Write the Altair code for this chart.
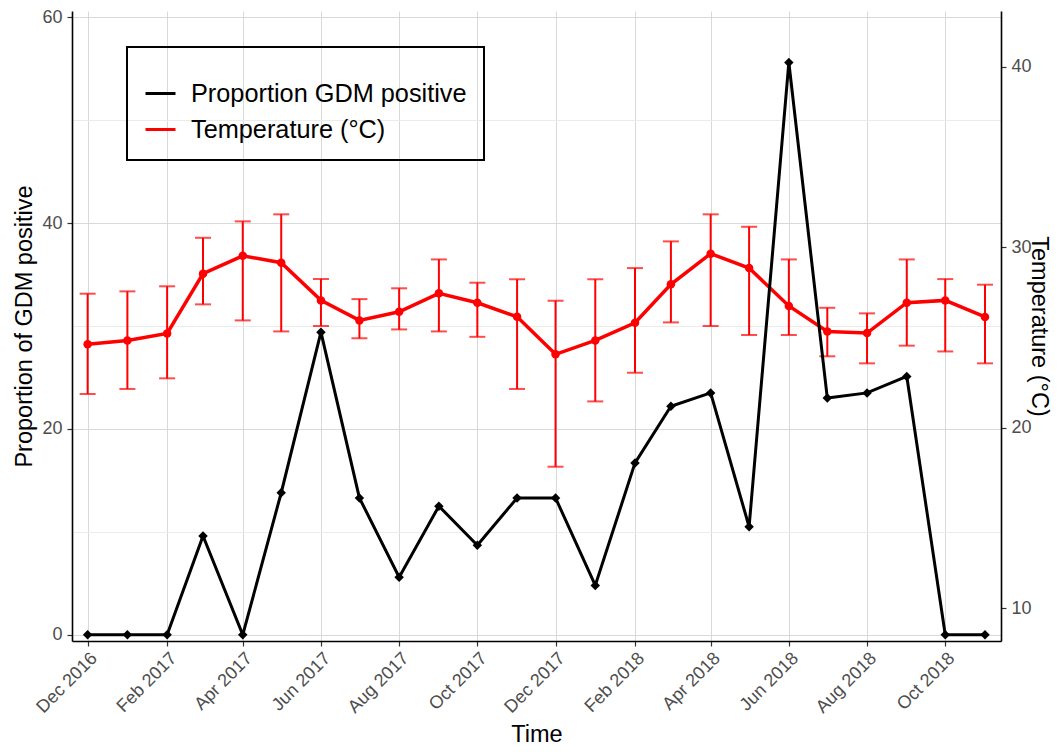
import altair as alt
import pandas as pd

# ---- data ----
months = [
    "2016-12-01", "2017-01-01", "2017-02-01", "2017-03-01", "2017-04-01", "2017-05-01",
    "2017-06-01", "2017-07-01", "2017-08-01", "2017-09-01", "2017-10-01", "2017-11-01",
    "2017-12-01", "2018-01-01", "2018-02-01", "2018-03-01", "2018-04-01", "2018-05-01",
    "2018-06-01", "2018-07-01", "2018-08-01", "2018-09-01", "2018-10-01", "2018-11-01",
]
gdm_prop = [0, 0, 0, 9.6, 0, 13.8, 29.4, 13.3, 5.6, 12.5, 8.7, 13.3,
            13.3, 4.8, 16.7, 22.2, 23.5, 10.5, 55.6, 23.0, 23.5, 25.1, 0, 0]
temp_mean = [24.63, 24.84, 25.23, 28.54, 29.53, 29.15, 27.06, 25.95, 26.43, 27.45, 26.93, 26.15,
             24.07, 24.84, 25.82, 27.95, 29.65, 28.85, 26.75, 25.34, 25.25, 26.93, 27.06, 26.14]
temp_low = [21.87, 22.15, 22.74, 26.84, 25.95, 25.34, 25.64, 24.96, 25.45, 25.34, 25.04, 22.15,
            17.84, 21.46, 23.05, 25.84, 25.64, 25.14, 25.14, 23.96, 23.57, 24.55, 24.23, 23.57]
temp_high = [27.43, 27.56, 27.84, 30.53, 31.44, 31.83, 28.24, 27.13, 27.73, 29.33, 28.04, 28.23,
             27.04, 28.23, 28.85, 30.33, 31.83, 31.14, 29.33, 26.65, 26.34, 29.33, 28.24, 27.93]
series_names = ["Proportion GDM positive", "Temperature (°C)"]
series_colors = ["black", "red"]
tick_months = [(2016, 12), (2017, 2), (2017, 4), (2017, 6), (2017, 8), (2017, 10), (2017, 12),
               (2018, 2), (2018, 4), (2018, 6), (2018, 8), (2018, 10)]
left_ticks = [0, 10, 20, 30, 40, 50, 60]
right_ticks = [10, 20, 30, 40]

df_prop = pd.DataFrame({"date": months, "prop": gdm_prop, "series": series_names[0]})
df_temp = pd.DataFrame({"date": months, "temp": temp_mean, "lo": temp_low, "hi": temp_high,
                        "series": series_names[1]})

FONT = "Liberation Sans"
LBL = 18
TTL = 23.5

x_enc = alt.X(
    "date:T",
    scale=alt.Scale(
        type="utc",
        domain=[alt.DateTime(year=2016, month=11, date=18, hours=19, utc=True),
                alt.DateTime(year=2018, month=11, date=13, hours=12, utc=True)],
    ),
    axis=alt.Axis(
        values=[alt.DateTime(year=y, month=m, date=1, utc=True) for y, m in tick_months],
        labelExpr="utcFormat(datum.value, '%b %Y')",
        labelAngle=-45, labelAlign="right", labelBaseline="top", labelPadding=3,
        labelFontSize=LBL, labelFont=FONT, labelColor="#4d4d4d",
        title="Time", titleX=464.5, titleY=100, titleBaseline="alphabetic",
        titleAlign="center", titleFontSize=TTL, grid=True, gridColor="#d9d9d9",
    ),
)

color_enc = alt.Color(
    "series:N",
    scale=alt.Scale(domain=series_names, range=series_colors),
    legend=alt.Legend(
        title=" ", titleFontSize=10, titlePadding=3,
        orient="none", legendX=55, legendY=36,
        symbolType="stroke", symbolSize=900, symbolStrokeWidth=3,
        labelFontSize=25.3, labelFont=FONT, labelColor="black", labelOffset=14,
        labelLimit=500, padding=17, rowPadding=6, strokeColor="black",
    ),
)

temp_scale = alt.Scale(domain=[8.18, 43.1], nice=False, zero=False)
temp_axis = alt.Axis(
    orient="right", values=right_ticks, grid=False, title="Temperature (°C)",
    labelFontSize=LBL, labelFont=FONT, labelColor="#4d4d4d", titleFontSize=TTL,
    titleAngle=90, titleX=30, titleY=315, titleBaseline="alphabetic", titleAlign="center",
)
prop_scale = alt.Scale(domain=[-0.6, 60.6], nice=False, zero=False)
prop_axis = alt.Axis(
    orient="left", values=left_ticks,
    labelExpr="datum.value % 20 == 0 ? datum.label : ''",
    labelFontSize=LBL, labelFont=FONT, labelColor="#4d4d4d", titleFontSize=TTL,
    tickOpacity=alt.condition("datum.value % 20 == 0", alt.value(1), alt.value(0)),
    gridColor=alt.condition("datum.value % 20 == 0", alt.value("#d9d9d9"), alt.value("#ebebeb")),
    grid=True, title="Proportion of GDM positive",
    titleAngle=-90, titleX=-41, titleY=315, titleBaseline="alphabetic", titleAlign="center",
)

base_t = alt.Chart(df_temp)
err = base_t.mark_errorbar(ticks=True, size=16, thickness=2, color="red").encode(
    x=x_enc,
    y=alt.Y("lo:Q", scale=temp_scale, axis=temp_axis),
    y2="hi:Q",
)
tline = base_t.mark_line(strokeWidth=3.5).encode(
    x=x_enc, y=alt.Y("temp:Q", scale=temp_scale, axis=temp_axis), color=color_enc
)
tpts = base_t.mark_point(filled=True, size=72, color="red", opacity=1).encode(
    x=x_enc, y=alt.Y("temp:Q", scale=temp_scale, axis=temp_axis)
)
temp_layer = alt.layer(err, tline, tpts)

base_p = alt.Chart(df_prop)
pline = base_p.mark_line(strokeWidth=3).encode(
    x=x_enc, y=alt.Y("prop:Q", scale=prop_scale, axis=prop_axis), color=color_enc
)
ppts = base_p.mark_point(shape="diamond", filled=True, size=90, color="black", opacity=1).encode(
    x=x_enc, y=alt.Y("prop:Q", scale=prop_scale, axis=prop_axis)
)
prop_layer = alt.layer(pline, ppts)

chart = (
    alt.layer(temp_layer, prop_layer)
    .resolve_scale(y="independent")
    .properties(
        width=929, height=630,
        autosize=alt.AutoSizeParams(type="none"),
        padding={"left": 64, "top": 3, "right": 50, "bottom": 106},
    )
    .configure_view(stroke=None)
    .configure_axis(
        domainColor="black", domainWidth=1.6,
        tickColor="#333333", tickSize=5, tickWidth=1.2,
        labelFont=FONT, labelFontSize=LBL, labelColor="#4d4d4d", labelPadding=5,
        titleFont=FONT, titleFontSize=TTL, titleColor="black", titleFontWeight="normal",
        gridWidth=1,
    )
    .configure_legend(strokeWidth=2)
)

chart.save("out.html", embed_options={"renderer": "svg", "actions": False})
